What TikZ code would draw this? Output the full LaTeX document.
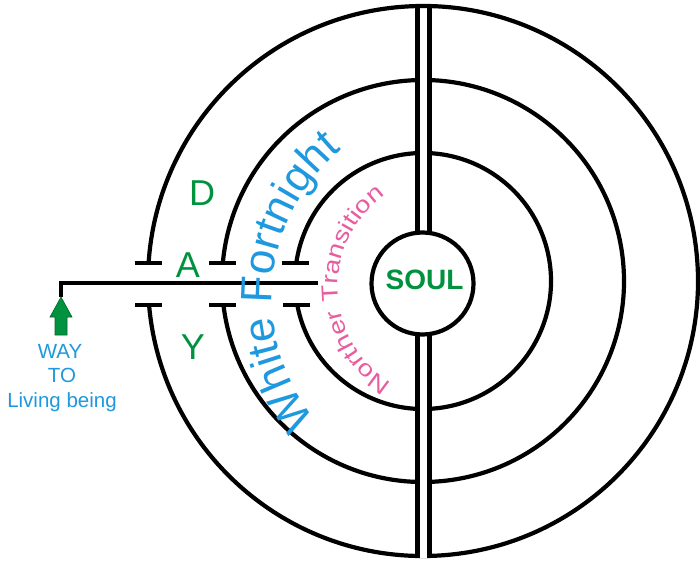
\documentclass[tikz,border=0pt]{standalone}
\usepackage{fontspec}
\setmainfont{Liberation Sans}
\newfontfamily\widefont[FakeStretch=1.2]{Liberation Sans}
\usetikzlibrary{decorations.text,calc}
\definecolor{daygreen}{RGB}{0,146,63}
\definecolor{wfblue}{RGB}{30,152,222}
\definecolor{ntpink}{RGB}{232,92,160}
\begin{document}
\begin{tikzpicture}[x=1pt,y=1pt,
  ring/.style={line width=4.2pt, draw=black},
  tickline/.style={line width=4.5pt, draw=black, line cap=butt},
  rail/.style={line width=4.6pt, draw=black},
  daytxt/.style={text=daygreen, inner sep=0pt, font=\fontsize{36}{36}\selectfont},
  waytxt/.style={text=wfblue, inner sep=0pt, anchor=base, font=\fontsize{20.5}{20.5}\selectfont},
  soultxt/.style={text=daygreen, inner sep=0pt, font=\fontsize{28}{28}\selectfont\bfseries},
  arrowfill/.style={fill=daygreen, draw=daygreen!70!black, line width=0.6pt}
]
\useasboundingbox (0,0) rectangle (700,560);
\fill[white] (0,0) rectangle (700,560);
\coordinate (C) at (423,279);
% three rings with a gap on the left
\foreach \r in {275,201,128} {
  \draw[ring] ([shift={({180+asin(24/\r)}:\r)}]C)
     arc[start angle={180+asin(24/\r)}, end angle={540-asin(18/\r)}, radius=\r];
  \draw[tickline] ([shift={({-\r*cos(asin(18/\r))-14},18)}]C) -- ++(27,0);
  \draw[tickline] ([shift={({-\r*cos(asin(24/\r))-14},-24)}]C) -- ++(27,0);
}
% double rail through the centre
\fill[white] (418.5,551) rectangle (428.5,300);
\fill[white] (418.5,250) rectangle (428.5,2);
\draw[rail] (417.5,554) -- (417.5,300);
\draw[rail] (429.5,554) -- (429.5,300);
\draw[rail] (417.5,250) -- (417.5,2);
\draw[rail] (429.5,250) -- (429.5,2);
% soul
\node[circle, draw=black, line width=4.2pt, fill=white, minimum size=102pt, inner sep=0pt] (soul) at (422.5,276.5) {};
\node[soultxt] (soultext) at (424.5,280) {SOUL};
% way line and arrow
\coordinate (tip) at (61,263);
\coordinate (lineend) at (318,277.3);
\draw[line width=4pt] (tip) |- (lineend);
\filldraw[arrowfill] (tip) -- (72,243) -- (67,243) -- (67,225) -- (55,225) -- (55,243) -- (50,243) -- cycle;
\node[waytxt] (way1) at (60,202) {WAY};
\node[waytxt] (way2) at (62,178) {TO};
\node[waytxt] (way3) at (62,153) {Living being};
% DAY
\node[daytxt] (dd) at (202,367) {D};
\node[daytxt] (da) at (188,295) {A};
\node[daytxt] (dy) at (193,212.5) {Y};
% curved texts
\path[decorate, decoration={text along path, text align={fit to path},
   text={|\fontsize{44}{44}\selectfont\color{wfblue}|White Fortnight}}]
   ([shift={(219:193)}]465,262) arc[start angle=219, end angle=129.7, radius=193];
\path[decorate, decoration={text along path, text align={fit to path},
   text={|\widefont\fontsize{23}{23}\selectfont\color{ntpink}|Norther Transition}}]
   ([shift={(238.4:113)}]451,273) arc[start angle=238.4, end angle=125.7, radius=113];
\end{tikzpicture}
\end{document}
